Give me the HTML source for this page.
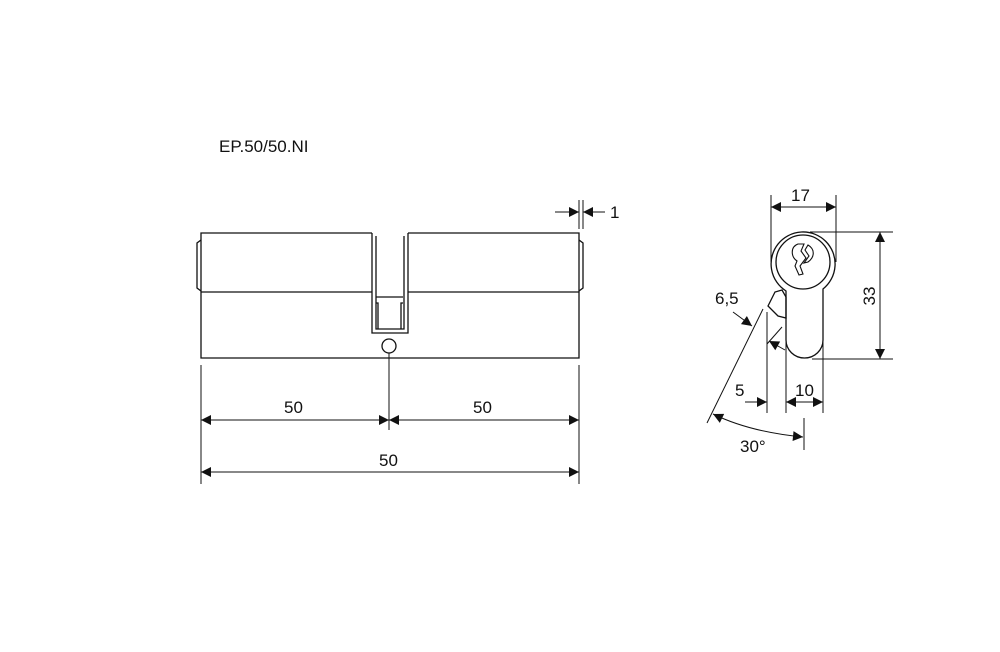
<!DOCTYPE html>
<html><head><meta charset="utf-8"><style>
html,body{margin:0;padding:0;background:#fff}
svg{display:block}
text{font-family:"Liberation Sans",sans-serif;font-size:17px;fill:#111}
</style></head><body>
<svg width="1000" height="652" viewBox="0 0 1000 652" xmlns="http://www.w3.org/2000/svg">
<defs>
<marker id="a" viewBox="0 0 10 10" refX="10" refY="5" markerWidth="14" markerHeight="10" markerUnits="userSpaceOnUse" orient="auto-start-reverse">
<path d="M0,0 L10,5 L0,10 Z" fill="#111"/></marker>
</defs>
<text x="219" y="152">EP.50/50.NI</text>
<g fill="none" stroke="#111" stroke-width="1.3">
<!-- body -->
<path d="M372,233 H201 V358 H579 V233 H408"/>
<line x1="201" y1="292" x2="372" y2="292"/>
<line x1="408" y1="292" x2="579" y2="292"/>
<path d="M201,240 L197,243 V288 L201,291"/>
<path d="M579,240 L583,243 V288 L579,291"/>
<path d="M372,233 V333 H408 V233"/>
<path d="M376,236 V329 H404 V236"/>
<path d="M376,297 H403 M376,303 H378 V329 M403,303 H401 V329"/>
<circle cx="389" cy="346" r="7"/>
<!-- ext lines -->
<line x1="201" y1="365" x2="201" y2="484" stroke-width="1"/>
<line x1="579" y1="365" x2="579" y2="484" stroke-width="1"/>
<line x1="389" y1="353" x2="389" y2="430" stroke-width="1"/>
<line x1="201" y1="420" x2="389" y2="420" stroke-width="1" marker-start="url(#a)" marker-end="url(#a)"/>
<line x1="389" y1="420" x2="579" y2="420" stroke-width="1" marker-start="url(#a)" marker-end="url(#a)"/>
<line x1="201" y1="472" x2="579" y2="472" stroke-width="1" marker-start="url(#a)" marker-end="url(#a)"/>
<!-- 1 dim -->
<line x1="579" y1="200" x2="579" y2="229" stroke-width="1"/>
<line x1="583" y1="200" x2="583" y2="229" stroke-width="1"/>
<line x1="555" y1="212" x2="579" y2="212" stroke-width="1" marker-end="url(#a)"/>
<line x1="605" y1="212" x2="583" y2="212" stroke-width="1" marker-end="url(#a)"/>
<!-- profile -->
<path d="M786,291 A32,32 0 1 1 823,289 L823,340 A18.5,18 0 0 1 786,340 Z"/>
<circle cx="803" cy="262" r="27"/>
<path d="M798,244 C790,247 791,257 797,261 L795,266 L799,275 L803,274 L800,266 L806,258 L801,251 L804,244 Z M808,245 C815,249 815,257 808,262 L804,263 L809,256 L805,250 Z" stroke-width="1.1"/>
<path d="M768,306 L775,292 L782,290 L786,297 V318 L778,316 Z"/>
<!-- 17 -->
<line x1="771" y1="195" x2="771" y2="262" stroke-width="1"/>
<line x1="836" y1="195" x2="836" y2="262" stroke-width="1"/>
<line x1="771" y1="207" x2="836" y2="207" stroke-width="1" marker-start="url(#a)" marker-end="url(#a)"/>
<!-- 33 -->
<line x1="810" y1="232" x2="893" y2="232" stroke-width="1"/>
<line x1="812" y1="359" x2="893" y2="359" stroke-width="1"/>
<line x1="880" y1="232" x2="880" y2="359" stroke-width="1" marker-start="url(#a)" marker-end="url(#a)"/>
<!-- 10 / 5 -->
<line x1="786" y1="340" x2="786" y2="413" stroke-width="1"/>
<line x1="823" y1="340" x2="823" y2="413" stroke-width="1"/>
<line x1="767" y1="312" x2="767" y2="413" stroke-width="1"/>
<line x1="786" y1="402" x2="823" y2="402" stroke-width="1" marker-start="url(#a)" marker-end="url(#a)"/>
<line x1="745" y1="402" x2="767" y2="402" stroke-width="1" marker-end="url(#a)"/>
<!-- 6,5 -->
<line x1="707" y1="423" x2="763" y2="309" stroke-width="1"/>
<line x1="767" y1="344" x2="782" y2="327" stroke-width="1"/>
<line x1="733" y1="312" x2="752" y2="326" stroke-width="1" marker-end="url(#a)"/>
<line x1="785" y1="350" x2="769" y2="341" stroke-width="1" marker-end="url(#a)"/>
<!-- 30 -->
<line x1="804" y1="418" x2="804" y2="450" stroke-width="1"/>
<path d="M713,414 Q750,432 803,437" stroke-width="1" marker-start="url(#a)" marker-end="url(#a)"/>
</g>
<text x="284" y="413">50</text>
<text x="473" y="413">50</text>
<text x="379" y="466">50</text>
<text x="610" y="218">1</text>
<text x="791" y="201">17</text>
<text x="795" y="396">10</text>
<text x="735" y="396">5</text>
<text x="715" y="304">6,5</text>
<text x="740" y="452">30°</text>
<text transform="translate(875,296) rotate(-90)" text-anchor="middle">33</text>
</svg>
</body></html>
